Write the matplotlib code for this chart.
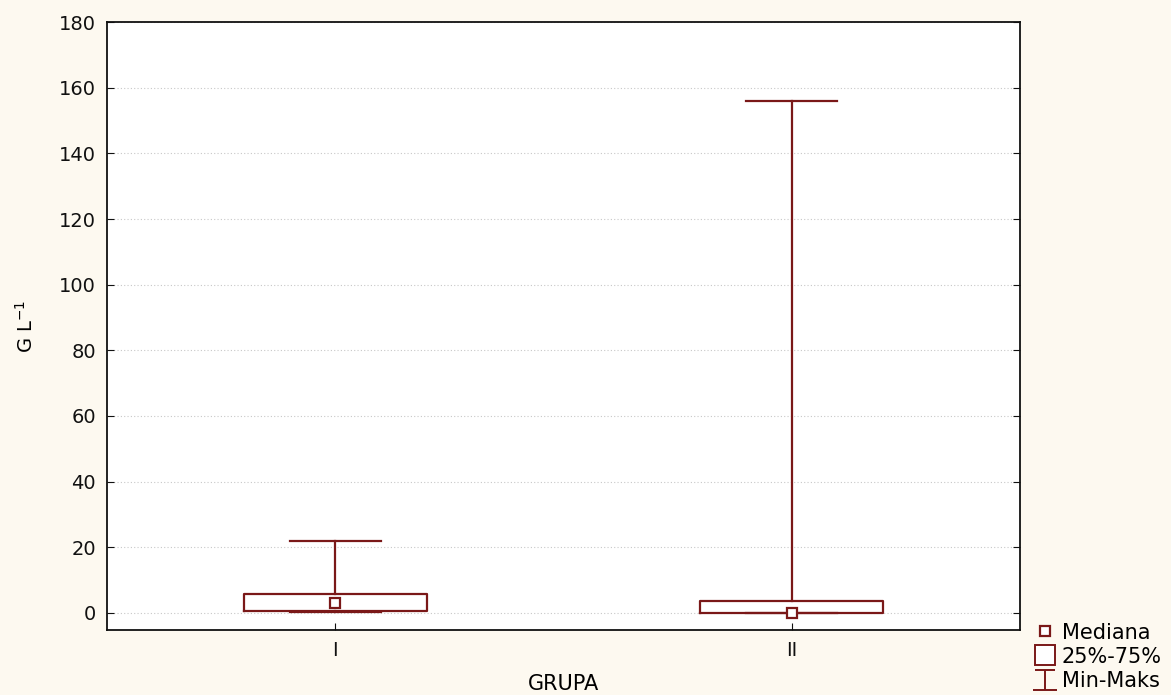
import matplotlib.pyplot as plt
import numpy as np
from matplotlib.lines import Line2D
from matplotlib.path import Path

plt.rcParams['font.family'] = ['DejaVu Sans']

# data
groups = ['I', 'II']
mins = [0.3, 0.0]
q1 = [0.6, 0.0]
medians = [3.0, 0.0]
q3 = [5.8, 3.7]
maxs = [22.0, 156.0]

col = '#7a1818'

fig = plt.figure(figsize=(11.71, 6.95), dpi=100, facecolor='#fdf9f0')
ax = fig.add_axes([0.0914, 0.0935, 0.7796, 0.8748])
ax.set_facecolor('white')

stats = []
for i, g in enumerate(groups):
    stats.append(dict(label=g, whislo=mins[i], q1=q1[i], med=medians[i],
                      q3=q3[i], whishi=maxs[i]))

pos = np.arange(1, len(groups) + 1)
ax.bxp(stats, positions=pos, widths=0.4, showfliers=False,
       boxprops=dict(color=col, lw=1.6),
       whiskerprops=dict(color=col, lw=1.6),
       capprops=dict(color=col, lw=1.6),
       medianprops=dict(linestyle='none'),
       capwidths=0.2)
ax.plot(pos, medians, 's', ms=7, mfc='white', mec=col, mew=1.6, ls='none',
        zorder=5)

ax.set_xlim(0.5, 2.5)
ax.set_ylim(-5.2, 180)
ax.set_yticks(np.arange(0, 181, 20))
ax.set_xticks(pos)
ax.set_xticklabels(groups)
ax.yaxis.grid(True, ls=(0, (1, 2)), color='#c8c8c8', lw=0.8)
ax.set_axisbelow(True)
ax.tick_params(direction='in', length=5, labelsize=14, right=True,
               top=False, pad=8, colors='#111111')
for s in ax.spines.values():
    s.set_linewidth(1.3)
    s.set_color('#111111')

ax.set_xlabel('GRUPA', fontsize=15, labelpad=10)
ax.set_ylabel('G L$^{\\mathregular{-1}}$', fontsize=14, labelpad=16)

ibeam = Path([(-0.5, 0.5), (0.5, 0.5), (0, 0.5), (0, -0.5), (-0.6, -0.5), (0.6, -0.5)],
             [Path.MOVETO, Path.LINETO, Path.MOVETO, Path.LINETO, Path.MOVETO, Path.LINETO])
handles = [
    Line2D([], [], marker='s', ms=7, mfc='white', mec=col, mew=1.6, ls='none'),
    Line2D([], [], marker='s', ms=15, mfc='white', mec=col, mew=1.4, ls='none'),
    Line2D([], [], marker=ibeam, ms=17, mec=col, mew=1.4, ls='none'),
]
fig.legend(handles, ['Mediana', '25%-75%', 'Min-Maks'], loc='upper left',
           bbox_to_anchor=(1020 / 1171, 1 - 608 / 695), frameon=False,
           fontsize=15, handlelength=1.0, handletextpad=0.3, labelspacing=0.2,
           borderpad=0.2)

fig.savefig('out.png', dpi=100, facecolor=fig.get_facecolor())
